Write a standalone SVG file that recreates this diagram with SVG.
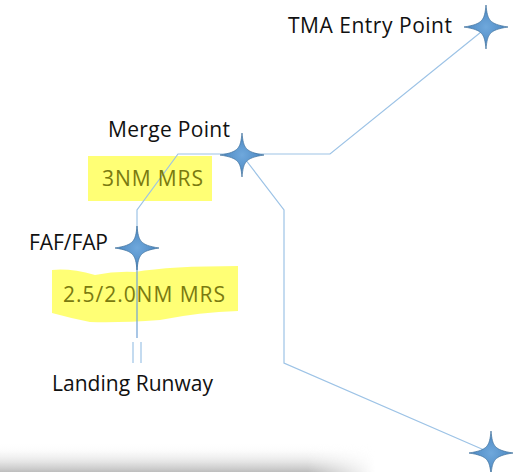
<svg xmlns="http://www.w3.org/2000/svg" width="520" height="472" viewBox="0 0 520 472">
<defs>
<style>
.lbl{font-family:"Open Sans","Liberation Sans",Arial,sans-serif;font-size:21px;fill:#111}
.mrs{font-family:"Open Sans","Liberation Sans",Arial,sans-serif;font-size:21px;fill:#7a7a10}
.conn{fill:none;stroke:#9DC3E6;stroke-width:1.2}
.app{fill:none;stroke:#6FA1D6;stroke-width:1.2}
.hl{fill:#FFFF66;opacity:0.9}
.star{fill:url(#sg);stroke:#41719C;stroke-width:0.7}
</style>
<radialGradient id="sg" cx="0.5" cy="0.5" r="0.5">
<stop offset="0" stop-color="#6FA8DC"/>
<stop offset="1" stop-color="#4A86C0"/>
</radialGradient>
<path id="st" d="M0,-22 C1.5,-7 3,-3 22,0 C3,3 1.5,7 0,22 C-1.5,7 -3,3 -22,0 C-3,-3 -1.5,-7 0,-22Z"/>
<linearGradient id="shV" x1="0" y1="0" x2="0" y2="1">
<stop offset="0" stop-color="#fff" stop-opacity="0"/>
<stop offset="1" stop-color="#bdbdbd"/>
</linearGradient>
<linearGradient id="shH" x1="0" y1="0" x2="1" y2="0">
<stop offset="0" stop-color="#fff" stop-opacity="1"/>
<stop offset="0.82" stop-color="#fff" stop-opacity="1"/>
<stop offset="1" stop-color="#fff" stop-opacity="0"/>
</linearGradient>
<mask id="shM"><rect x="0" y="440" width="375" height="32" fill="url(#shH)"/></mask>
</defs>
<rect width="520" height="472" fill="#fff"/>
<g id="shadow"><rect x="0" y="444" width="375" height="28" fill="url(#shV)" mask="url(#shM)"/></g>
<g id="highlights">
<rect class="hl" x="88" y="156" width="124" height="45"/>
<path class="hl" d="M52,270 Q70,268 95,275 Q115,271 135,272 Q170,266 238,266 L238,311 Q200,312 160,320 Q120,323 90,322 Q70,318 52,313 Z"/>
</g>
<g id="connectors">
<polyline class="conn" points="486,28 330,154 178,154 137,210 137,248"/>
<polyline class="conn" points="242,155 284,210 284,363 491,453"/>
<line class="app" x1="137" y1="248" x2="137" y2="338"/>
<g id="runway-marks">
<line class="conn" x1="133" y1="342" x2="133" y2="363"/>
<line class="conn" x1="141" y1="342" x2="141" y2="363"/>
</g>
</g>
<g id="tma-entry">
<use href="#st" class="star" x="486" y="27"/>
<text class="lbl" x="288" y="33" textLength="164">TMA Entry Point</text>
</g>
<g id="merge-point">
<use href="#st" class="star" x="242" y="155"/>
<text class="lbl" x="108" y="137" textLength="122">Merge Point</text>
<text class="mrs" x="102" y="186" textLength="101">3NM MRS</text>
</g>
<g id="faf-fap">
<use href="#st" class="star" x="137" y="248"/>
<text class="lbl" x="29" y="250" textLength="79">FAF/FAP</text>
<text class="mrs" x="63" y="302" textLength="162">2.5/2.0NM MRS</text>
</g>
<g id="landing-runway">
<text class="lbl" x="52" y="391" textLength="161">Landing Runway</text>
</g>
<g id="exit-point">
<use href="#st" class="star" x="491" y="453"/>
</g>
</svg>
